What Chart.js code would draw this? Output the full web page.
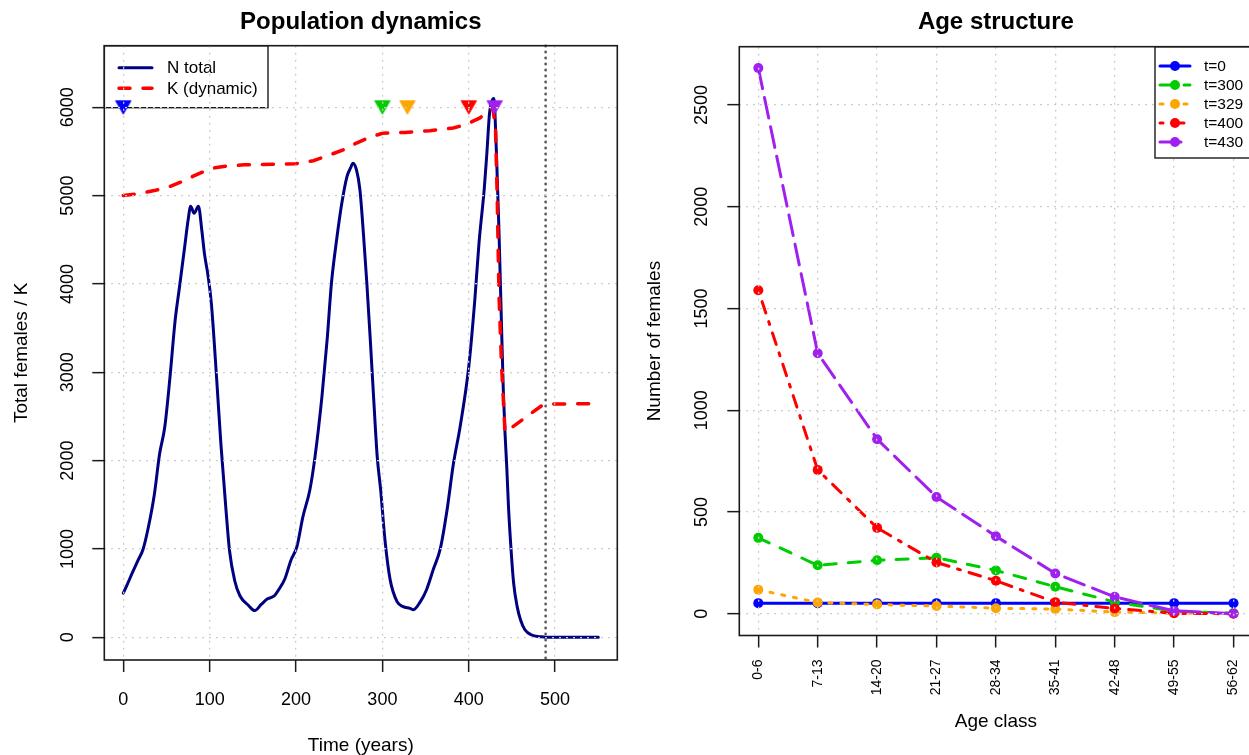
<!DOCTYPE html>
<html><head><meta charset="utf-8">
<script src="https://cdn.jsdelivr.net/npm/chart.js@4.4.1/dist/chart.umd.min.js"></script>
<style>
html,body{margin:0;padding:0;background:#fff;overflow:hidden;width:1249px;height:755px;}
#c1{position:absolute;left:0;top:0;}
#c2{position:absolute;left:640px;top:0;}
</style></head><body>
<canvas id="c1" width="640" height="755"></canvas>
<canvas id="c2" width="640" height="755"></canvas>
<script>
// ---------------- data: population dynamics ----------------
const nTimes = [0,4,10,17,23,29,36,42,48,54,60,65,71,75,78,82,87,91,94,98,102,108,113,119,123,129,135,145,152,160,167,175,180,187,194,201,208,216,222,230,236,241,247,253,259,263,266,270,274,278,282,286,290,294,298,303,309,317,324,332,336,344,351,359,367,375,382,390,400,407,412,418,421,424,426,429,432,435,438,440,442,444,446,449,452,456,460,465,473,483,489,550];
const nTotal = [500,585,720,870,1000,1245,1620,2075,2380,2940,3585,3960,4415,4720,4880,4800,4880,4600,4340,4100,3775,2940,2190,1430,980,640,470,360,302,375,435,470,540,660,870,1025,1366,1668,2045,2725,3366,4008,4500,4913,5215,5310,5366,5290,5064,4574,4008,3366,2687,2045,1668,1100,650,404,347,328,312,404,536,770,1000,1450,1950,2384,3063,3818,4479,5082,5484,5927,6047,6100,5500,4600,3500,2800,2310,1930,1480,990,610,350,195,85,26,7,0,0];
const kTimes = [0,17,36,53,71,83,94,106,121,140,180,200,220,239,255,270,285,300,326,355,382,397,413,424,428,431,433,435,438,442,487,550];
const kDynamic = [5000,5020,5057,5100,5170,5230,5275,5315,5335,5348,5355,5362,5395,5460,5520,5595,5660,5705,5715,5735,5765,5805,5880,5960,5990,5750,4960,3880,3070,2320,2640,2645];
const snapshotTimes = [0,300,329,400,430];
const snapshotLevel = 6000;
const extinctionTime = 489;
const xTicksLeft = [0,100,200,300,400,500];
const yTicksLeft = [0,1000,2000,3000,4000,5000,6000];

// ---------------- data: age structure ----------------
const ageClasses = ['0-6','7-13','14-20','21-27','28-34','35-41','42-48','49-55','56-62'];
const ageT0   = [52,52,52,52,52,52,52,52,52];
const ageT300 = [373,238,263,275,213,133,58,12,3];
const ageT329 = [118,55,45,38,27,23,8,3,1];
const ageT400 = [1590,707,422,252,162,57,26,2,0];
const ageT430 = [2682,1280,858,574,381,198,83,14,1];
const seriesLabels = ['t=0','t=300','t=329','t=400','t=430'];
const yTicksRight = [0,500,1000,1500,2000,2500];

// ---------------- styles ----------------
const FONT = "'Liberation Sans', Arial, Helvetica, sans-serif";
const snapColors = ['#0000FF','#00CD00','#FFA500','#FF0000','#A020F0'];
const seriesDash = [[], [12,12], [3,9], [3,9,12,9], [21,9]];

function triCanvas(color) {
  const c = document.createElement('canvas');
  c.width = 18; c.height = 16;
  const g = c.getContext('2d');
  g.fillStyle = color; g.strokeStyle = color; g.lineWidth = 1.2; g.lineJoin = 'round';
  g.beginPath(); g.moveTo(1.5, 1.5); g.lineTo(16.5, 1.5); g.lineTo(9, 14.5); g.closePath();
  g.fill(); g.stroke();
  return c;
}

function drawLegend(chart, L) {
  const ctx = chart.ctx, a = chart.chartArea;
  const x1 = L.anchor === 'left' ? a.left : a.right - L.width;
  const y1 = a.top;
  ctx.save();
  if (L.fill) { ctx.fillStyle = '#fff'; ctx.fillRect(x1, y1, L.width, L.height); }
  ctx.setLineDash([]);
  ctx.strokeStyle = '#1a1a1a'; ctx.lineWidth = 1.4;
  ctx.strokeRect(x1, y1, L.width, L.height);
  L.indices.forEach((di, row) => {
    const ds = chart.data.datasets[di];
    const y = y1 + L.row0 + row * L.rowStep;
    ctx.save();
    ctx.strokeStyle = ds.borderColor; ctx.lineWidth = ds.borderWidth;
    ctx.lineCap = 'round';
    ctx.setLineDash(ds.borderDash || []);
    ctx.beginPath(); ctx.moveTo(x1 + L.lineStart, y); ctx.lineTo(x1 + L.lineEnd, y); ctx.stroke();
    ctx.restore();
    if (L.points) {
      ctx.fillStyle = ds.borderColor;
      ctx.beginPath(); ctx.arc(x1 + (L.lineStart + L.lineEnd) / 2, y, ds.pointRadius, 0, Math.PI * 2); ctx.fill();
    }
    ctx.fillStyle = '#000'; ctx.font = L.font; ctx.textAlign = 'left'; ctx.textBaseline = 'middle';
    ctx.fillText(ds.label, x1 + L.textX, y + 1);
  });
  ctx.restore();
}

function rPlugin(cfg) {
  return {
    id: 'rdecor',
    beforeDatasetsDraw(chart) { if (cfg.legend.under) drawLegend(chart, cfg.legend); },
    afterDatasetsDraw(chart) {
      if (cfg.vline === undefined) return;
      const ctx = chart.ctx, a = chart.chartArea;
      const px = chart.scales.x.getPixelForValue(cfg.vline);
      ctx.save();
      ctx.strokeStyle = '#5a5a5a'; ctx.lineWidth = 2.6; ctx.lineCap = 'round';
      ctx.setLineDash([0.5, 5.5]);
      ctx.beginPath(); ctx.moveTo(px, a.top); ctx.lineTo(px, a.bottom); ctx.stroke();
      ctx.restore();
    },
    afterDraw(chart) {
      const ctx = chart.ctx, a = chart.chartArea, xs = chart.scales.x, ys = chart.scales.y;
      if (!cfg.legend.under) drawLegend(chart, cfg.legend);
      ctx.save();
      ctx.setLineDash([]);
      ctx.strokeStyle = '#1a1a1a'; ctx.lineWidth = 1.6;
      ctx.strokeRect(a.left, a.top, a.right - a.left, a.bottom - a.top);
      ctx.fillStyle = '#000';
      ctx.font = 'bold 24px ' + FONT; ctx.textAlign = 'center'; ctx.textBaseline = 'middle';
      ctx.fillText(cfg.title, (a.left + a.right) / 2, cfg.titleY);
      ctx.font = cfg.xTickFont;
      cfg.xTickValues.forEach((v, i) => {
        const px = xs.getPixelForValue(v);
        const txt = cfg.xTickText[i];
        if (cfg.xTickRotated) {
          ctx.save(); ctx.translate(px, a.bottom + cfg.xTickOffset); ctx.rotate(-Math.PI / 2);
          ctx.textAlign = 'right'; ctx.textBaseline = 'middle'; ctx.fillText(txt, 0, 0); ctx.restore();
        } else {
          ctx.textAlign = 'center'; ctx.textBaseline = 'middle';
          ctx.fillText(txt, px, a.bottom + cfg.xTickOffset);
        }
      });
      ctx.font = cfg.yTickFont;
      cfg.yTickValues.forEach(v => {
        const py = ys.getPixelForValue(v);
        ctx.save(); ctx.translate(a.left - cfg.yTickOffset, py); ctx.rotate(-Math.PI / 2);
        ctx.textAlign = 'center'; ctx.textBaseline = 'middle'; ctx.fillText(String(v), 0, 0); ctx.restore();
      });
      ctx.font = cfg.axisFont; ctx.textAlign = 'center'; ctx.textBaseline = 'middle';
      ctx.fillText(cfg.xTitle, (a.left + a.right) / 2, cfg.xTitleY);
      ctx.save(); ctx.translate(cfg.yTitleX, (a.top + a.bottom) / 2); ctx.rotate(-Math.PI / 2);
      ctx.fillText(cfg.yTitle, 0, 0); ctx.restore();
      ctx.restore();
    }
  };
}

function gridOpts() {
  return { color: '#cdcdcd', lineWidth: 1.3, drawTicks: true, tickLength: 12,
           tickColor: '#1a1a1a', tickWidth: 1.5, tickBorderDash: [], z: 1 };
}

// ---------------- left chart ----------------
new Chart(document.getElementById('c1'), {
  type: 'line',
  data: { datasets: [
    { label: 'N total', data: nTimes.map((t, i) => ({ x: t, y: nTotal[i] })),
      borderColor: '#000080', borderWidth: 3, pointRadius: 0, cubicInterpolationMode: 'monotone',
      borderJoinStyle: 'round', borderCapStyle: 'round', order: 3 },
    { label: 'K (dynamic)', data: kTimes.map((t, i) => ({ x: t, y: kDynamic[i] })),
      borderColor: '#FF0000', borderWidth: 3.5, borderDash: [11, 13], borderCapStyle: 'round',
      pointRadius: 0, tension: 0, order: 2 },
    { label: 'snapshots', data: snapshotTimes.map(t => ({ x: t, y: snapshotLevel })),
      showLine: false, pointStyle: snapColors.map(triCanvas), pointRadius: 8, order: 1 }
  ]},
  options: {
    responsive: false, animation: false, devicePixelRatio: 1, events: [],
    layout: { padding: { left: 0, top: 45.7, right: 22.7, bottom: 0 } },
    plugins: { legend: { display: false }, tooltip: { enabled: false } },
    scales: {
      x: { type: 'linear', min: -22, max: 572,
           afterBuildTicks: s => { s.ticks = xTicksLeft.map(v => ({ value: v })); },
           afterFit: s => { s.height = 95; },
           ticks: { display: false }, grid: gridOpts(), border: { display: false, dash: [2, 5] } },
      y: { type: 'linear', min: -257, max: 6697,
           afterBuildTicks: s => { s.ticks = yTicksLeft.map(v => ({ value: v })); },
           afterFit: s => { s.width = 104.3; },
           ticks: { display: false }, grid: gridOpts(), border: { display: false, dash: [2, 5] } }
    }
  },
  plugins: [rPlugin({
    title: 'Population dynamics', titleY: 22,
    xTickValues: xTicksLeft, xTickText: xTicksLeft.map(String), xTickRotated: false,
    xTickFont: '18px ' + FONT, xTickOffset: 40,
    yTickValues: yTicksLeft, yTickFont: '18px ' + FONT, yTickOffset: 36,
    axisFont: '19px ' + FONT, xTitle: 'Time (years)', xTitleY: 746,
    yTitle: 'Total females / K', yTitleX: 22,
    vline: extinctionTime,
    legend: { under: true, anchor: 'left', fill: false, width: 163.7, height: 62,
              row0: 22, rowStep: 20.6, lineStart: 14.7, lineEnd: 47.7, textX: 62.7,
              points: false, font: '17px ' + FONT, indices: [0, 1] }
  })]
});

// ---------------- right chart ----------------
const ageSeries = [ageT0, ageT300, ageT329, ageT400, ageT430];
new Chart(document.getElementById('c2'), {
  type: 'line',
  data: { datasets: ageSeries.map((arr, si) => ({
    label: seriesLabels[si],
    data: arr.map((v, i) => ({ x: i + 1, y: v })),
    borderColor: snapColors[si], backgroundColor: snapColors[si],
    pointBackgroundColor: snapColors[si], pointBorderColor: snapColors[si],
    borderWidth: 3, borderDash: seriesDash[si], borderCapStyle: 'round',
    pointRadius: 5, pointBorderWidth: 0, tension: 0, order: 5 - si
  }))},
  options: {
    responsive: false, animation: false, devicePixelRatio: 1, events: [],
    layout: { padding: { left: 0, top: 46.7, right: 27.5, bottom: 0 } },
    plugins: { legend: { display: false }, tooltip: { enabled: false } },
    scales: {
      x: { type: 'linear', min: 0.68, max: 9.32,
           afterBuildTicks: s => { s.ticks = ageClasses.map((c, i) => ({ value: i + 1 })); },
           afterFit: s => { s.height = 119.5; },
           ticks: { display: false }, grid: gridOpts(), border: { display: false, dash: [2, 5] } },
      y: { type: 'linear', min: -107, max: 2787,
           afterBuildTicks: s => { s.ticks = yTicksRight.map(v => ({ value: v })); },
           afterFit: s => { s.width = 99.3; },
           ticks: { display: false }, grid: gridOpts(), border: { display: false, dash: [2, 5] } }
    }
  },
  plugins: [rPlugin({
    title: 'Age structure', titleY: 22,
    xTickValues: ageClasses.map((c, i) => i + 1), xTickText: ageClasses, xTickRotated: true,
    xTickFont: '14px ' + FONT, xTickOffset: 24,
    yTickValues: yTicksRight, yTickFont: '18px ' + FONT, yTickOffset: 36.8,
    axisFont: '19px ' + FONT, xTitle: 'Age class', xTitleY: 722,
    yTitle: 'Number of females', yTitleX: 15,
    legend: { under: false, anchor: 'right', fill: true, width: 97.5, height: 111.3,
              row0: 19.3, rowStep: 19, lineStart: 5, lineEnd: 35, textX: 49,
              points: true, font: '15.5px ' + FONT, indices: [0, 1, 2, 3, 4] }
  })]
});
</script>
</body></html>
